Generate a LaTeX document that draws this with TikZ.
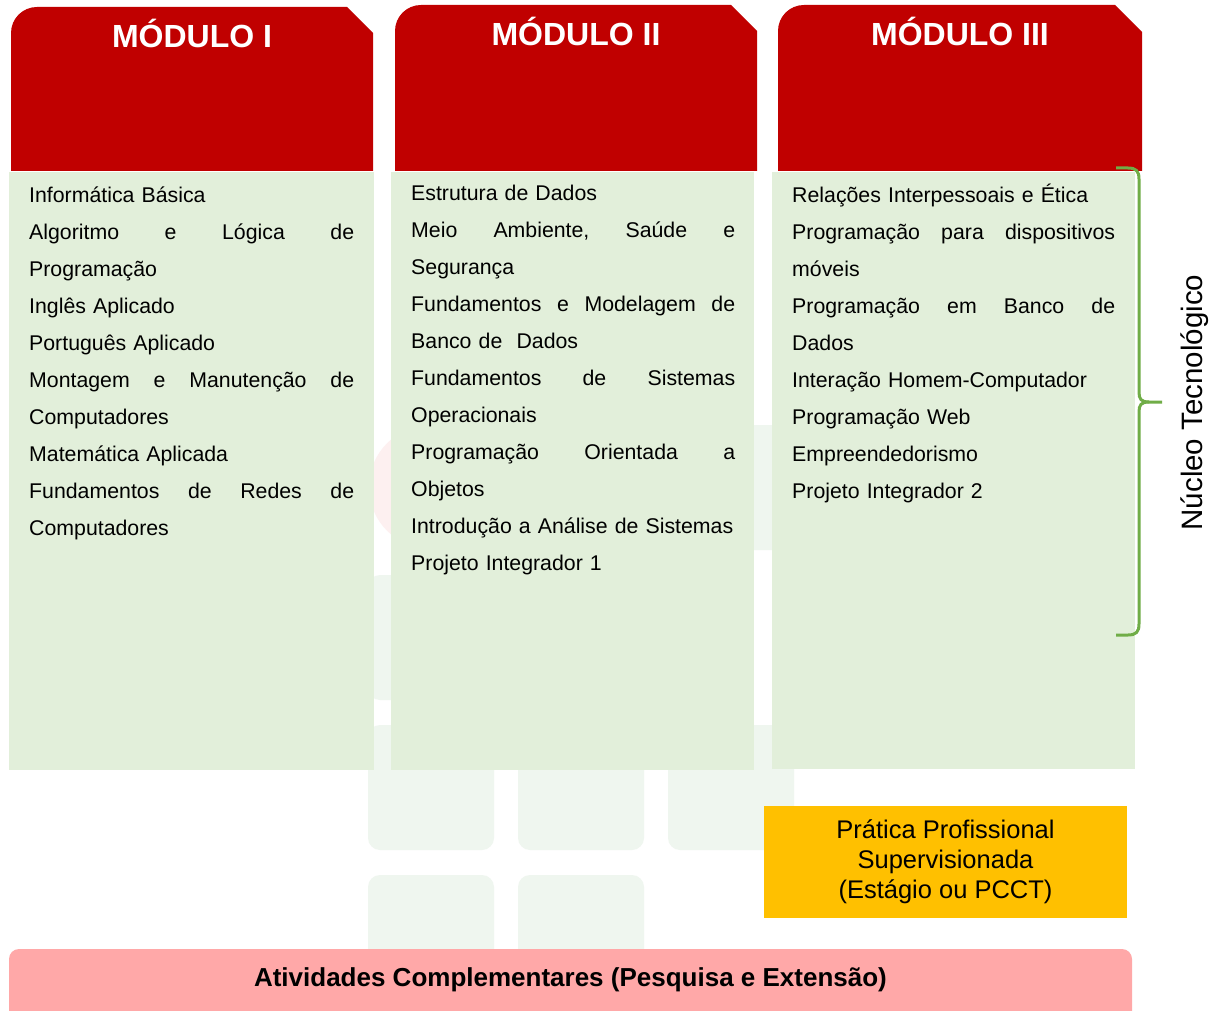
\documentclass[tikz,border=0pt]{standalone}
\usepackage{fontspec}
\setmainfont{Liberation Sans}
\definecolor{modred}{HTML}{C00000}
\definecolor{modgreen}{HTML}{E2EFDA}
\definecolor{bracegreen}{HTML}{70AD47}
\definecolor{pracyellow}{HTML}{FFC000}
\definecolor{actpink}{HTML}{FFA8A8}
\definecolor{wmgreen}{HTML}{EFF6EF}
\definecolor{wmred}{HTML}{FDF0F0}
\newcommand{\jline}[2]{\leavevmode\hbox to #1{#2}}
\begin{document}
\begin{tikzpicture}[x=1pt,y=-1pt,
  header/.style={fill=modred},
  body/.style={fill=modgreen},
  wmsq/.style={fill=wmgreen, rounded corners=12pt},
  modtitle/.style={text=white, font=\fontsize{32}{38}\selectfont\bfseries, anchor=base, inner sep=0pt},
  subjects/.style={font=\fontsize{21.3}{37}\selectfont, align=left, anchor=base west, inner sep=0pt},
]
\useasboundingbox (0,0) rectangle (1211,1011);
\fill[white] (0,0) rectangle (1211,1011);

% watermark logo
\fill[wmred] (431,487) circle (62);
\foreach \wx/\wy in {518/425,668/425,368/575,518/575,368/725,518/725,668/725,368/875,518/875}
  \fill[wmsq] (\wx,\wy) rectangle ++(126,125);

% headers
\fill[header] (11,171) -- (11,33) .. controls (11,18.6) and (22.6,7) .. (37,7) -- (347,7) -- (373,33) -- (373,171) -- cycle;
\fill[header] (395,171) -- (395,31) .. controls (395,16.6) and (406.6,5) .. (421,5) -- (731,5) -- (757,31) -- (757,171) -- cycle;
\fill[header] (778,171) -- (778,31) .. controls (778,16.6) and (789.6,5) .. (804,5) -- (1115,5) -- (1142,32) -- (1142,171) -- cycle;

\node[modtitle] (t1) at (192,48) {MÓDULO I};
\node[modtitle] (t2) at (576,46) {MÓDULO II};
\node[modtitle] (t3) at (960,46) {MÓDULO III};

% bodies
\fill[body] (9,172) rectangle (374,770);
\fill[body] (391,172) rectangle (754,770);
\fill[body] (772,172) rectangle (1135,769);

\node[subjects, text width=325pt] (list1) at (29,203) {Informática Básica\\
\jline{325pt}{Algoritmo\hfill e\hfill Lógica\hfill de}\\
Programação\\
Inglês Aplicado\\
Português Aplicado\\
\jline{325pt}{Montagem\hfill e\hfill Manutenção\hfill de}\\
Computadores\\
Matemática Aplicada\\
\jline{325pt}{Fundamentos\hfill de\hfill Redes\hfill de}\\
Computadores};

\node[subjects, text width=324pt] (list2) at (411,201) {Estrutura de Dados\\
\jline{324pt}{Meio\hfill Ambiente,\hfill Saúde\hfill e}\\
Segurança\\
\jline{324pt}{Fundamentos\hfill e\hfill Modelagem\hfill de}\\
Banco de\ \ Dados\\
\jline{324pt}{Fundamentos\hfill de\hfill Sistemas}\\
Operacionais\\
\jline{324pt}{Programação\hfill Orientada\hfill a}\\
Objetos\\
Introdução a Análise de Sistemas\\
Projeto Integrador 1};

\node[subjects, text width=323pt] (list3) at (792,203) {Relações Interpessoais e Ética\\
\jline{323pt}{Programação\hfill para\hfill dispositivos}\\
móveis\\
\jline{323pt}{Programação\hfill em\hfill Banco\hfill de}\\
Dados\\
Interação Homem-Computador\\
Programação Web\\
Empreendedorismo\\
Projeto Integrador 2};

% brace
\draw[bracegreen, line width=3pt]
  (1116,168) -- (1128,168) .. controls (1136,168) and (1139,171) .. (1139,179)
  -- (1139,392) .. controls (1139,399) and (1141,402) .. (1149,402) -- (1162,402);
\draw[bracegreen, line width=3pt]
  (1149,402) .. controls (1141,402) and (1139,405) .. (1139,412)
  -- (1139,624) .. controls (1139,632) and (1136,635) .. (1128,635) -- (1116,635);
\node[rotate=90, anchor=base, inner sep=0pt, font=\fontsize{29.5}{35}\selectfont] (nucleo) at (1202,402.5) {Núcleo Tecnológico};

% practice box
\node[fill=pracyellow, minimum width=363pt, minimum height=112pt, inner sep=0pt,
  align=center, font=\fontsize{25.5}{30}\selectfont] (pratica) at (945.5,862)
  {Prática Profissional\\Supervisionada\\(Estágio ou PCCT)};

% activities bar
\fill[actpink] (9,1011) -- (9,959) .. controls (9,953.5) and (13.5,949) .. (19,949)
  -- (1122,949) .. controls (1127.5,949) and (1132,953.5) .. (1132,959) -- (1132,1011) -- cycle;
\node[anchor=base, inner sep=0pt, font=\fontsize{26}{30}\selectfont\bfseries] (ativ) at (570.5,986)
  {Atividades Complementares (Pesquisa e Extensão)};
\end{tikzpicture}
\end{document}
